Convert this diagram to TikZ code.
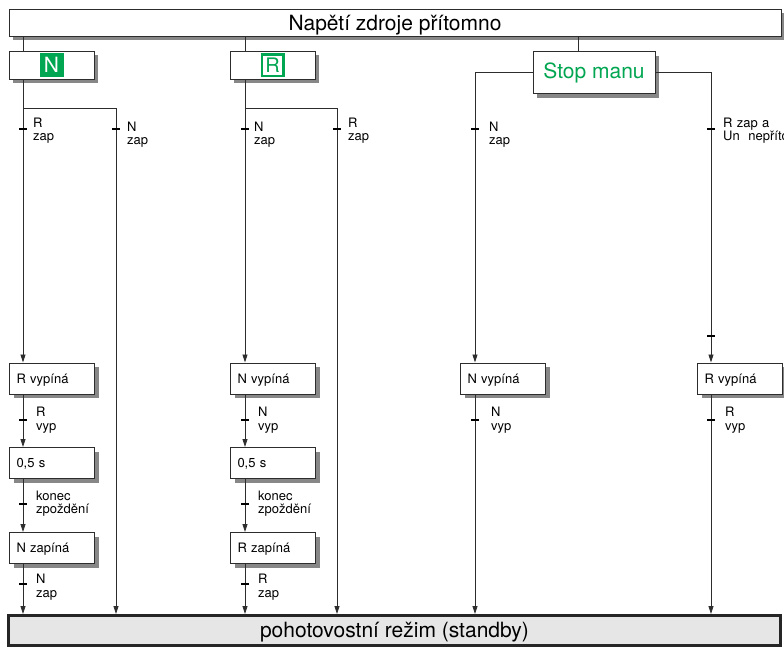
\documentclass[tikz,border=0pt]{standalone}
\usepackage{fontspec}
\setmainfont{TeX Gyre Heros}
\usetikzlibrary{arrows.meta,shadows}
\definecolor{grn}{RGB}{0,166,81}
\definecolor{shd}{RGB}{135,135,135}
\definecolor{lnc}{RGB}{45,45,45}
\definecolor{sbfill}{RGB}{230,230,230}
\begin{document}
\begin{tikzpicture}[x=1pt,y=-1pt,
  ln/.style={draw=lnc, line width=0.8pt},
  arr/.style={ln, -{Triangle[length=8pt,width=5pt]}},
  tickmark/.style={draw=black, line width=2pt},
  frame/.style={draw=lnc, line width=1pt, fill=white, inner sep=0pt,
    general shadow={fill=shd, shadow xshift=4pt, shadow yshift=-4pt}},
  bigtxt/.style={font=\fontsize{21}{25}\selectfont},
  stepbox/.style={frame, anchor=north west, minimum height=31pt, text width=71pt,
    inner xsep=7pt, align=left, text height=9pt, text depth=0pt, font=\fontsize{13}{15}\selectfont},
  lbl/.style={anchor=base west, inner sep=0pt, text width=120pt, align=left,
    font=\fontsize{13}{13.5}\selectfont},
]
\useasboundingbox (0,0) rectangle (784,648);

% column coordinates
\coordinate (c1) at (23,0);
\coordinate (c2) at (116,0);
\coordinate (c3) at (245,0);
\coordinate (c4) at (337,0);
\coordinate (c5) at (475,0);
\coordinate (c6) at (711,0);
\coordinate (cS) at (578,0);
\coordinate (jN) at (23,108);
\coordinate (jR) at (245,108);

% top box
\node[frame, bigtxt, minimum width=772pt, minimum height=27pt, text height=15pt, text depth=0pt]
  (top) at (395,22.5) {Napětí zdroje přítomno};

% mode boxes
\node[frame, minimum width=85pt, minimum height=28pt] (nbox) at (51.5,65)
  {\setlength{\fboxsep}{0pt}\colorbox{grn}{\parbox[c][24pt][c]{24pt}{\centering\color{white}\fontsize{21}{21}\selectfont N}}};
\node[frame, minimum width=85pt, minimum height=28pt] (rbox) at (272.5,65)
  {\setlength{\fboxsep}{0pt}\setlength{\fboxrule}{2.5pt}\fcolorbox{grn}{white}{\parbox[c][19pt][c]{19pt}{\centering\color{grn}\fontsize{20}{20}\selectfont R}}};
\node[frame, bigtxt, text=grn, minimum width=122pt, minimum height=42pt] (stop) at (594,72.5) {Stop manu};

% step boxes
\node[stepbox] (nRv) at (9,362.5) {R vypíná};
\node[stepbox] (n05) at (9,447) {0,5 s};
\node[stepbox] (nNz) at (9,532) {N zapíná};
\node[stepbox] (rNv) at (230,362.5) {N vypíná};
\node[stepbox] (r05) at (230,447) {0,5 s};
\node[stepbox] (rRz) at (230,532) {R zapíná};
\node[stepbox] (sNv) at (460,362.5) {N vypíná};
\node[stepbox] (sRv) at (697,362.5) {R vypíná};

% standby box
\node[draw=black!85, line width=3pt, fill=sbfill, bigtxt, minimum width=772pt, minimum height=30pt,
  inner sep=0pt, text height=14pt, text depth=0pt] (sb) at (394.5,630.5) {pohotovostní režim (standby)};

% connectors from top
\draw[ln] (top.south -| c1) -- (nbox.north -| c1);
\draw[ln] (top.south -| c3) -- (rbox.north -| c3);
\draw[ln] (top.south -| cS) -- (stop.north -| cS);

% N branch
\draw[arr] (nbox.south -| c1) -- (nRv.north -| c1);
\draw[arr] (jN) -- (jN -| c2) -- (sb.north -| c2);
\draw[arr] (nRv.south -| c1) -- (n05.north -| c1);
\draw[arr] (n05.south -| c1) -- (nNz.north -| c1);
\draw[arr] (nNz.south -| c1) -- (sb.north -| c1);

% R branch
\draw[arr] (rbox.south -| c3) -- (rNv.north -| c3);
\draw[arr] (jR) -- (jR -| c4) -- (sb.north -| c4);
\draw[arr] (rNv.south -| c3) -- (r05.north -| c3);
\draw[arr] (r05.south -| c3) -- (rRz.north -| c3);
\draw[arr] (rRz.south -| c3) -- (sb.north -| c3);

% Stop branch
\draw[arr] (stop.west) -- (stop.west -| c5) -- (sNv.north -| c5);
\draw[arr] (stop.east) -- (stop.east -| c6) -- (sRv.north -| c6);
\draw[arr] (sNv.south -| c5) -- (sb.north -| c5);
\draw[arr] (sRv.south -| c6) -- (sb.north -| c6);

% transition ticks
\foreach \tx/\ty in {23/129,116/129,245/129,337/129,475/129,711/129,
                     23/420,245/420,475/420,711/420,
                     23/504,245/504,23/584,245/584,711/336}
  \draw[tickmark] (\tx-4,\ty) -- (\tx+4,\ty);

% labels
\node[lbl] (l1) at (33,127) {R\\zap};
\node[lbl] (l2) at (127,131) {N\\zap};
\node[lbl] (l3) at (254,131) {N\\zap};
\node[lbl] (l4) at (348,127) {R\\zap};
\node[lbl] (l5) at (489,131) {N\\zap};
\node[lbl] (l6) at (723,127) {R zap a\\Un\ \ nepřítomno};
\node[lbl] (l7) at (36,416.7) {R\\vyp};
\node[lbl] (l8) at (258,416.7) {N\\vyp};
\node[lbl] (l9) at (491,416.7) {N\\vyp};
\node[lbl] (l10) at (725,416.7) {R\\vyp};
\node[lbl] (l11) at (36,500) {konec\\zpoždění};
\node[lbl] (l12) at (258,500) {konec\\zpoždění};
\node[lbl] (l13) at (36,583.5) {N\\zap};
\node[lbl] (l14) at (258,583.5) {R\\zap};
\end{tikzpicture}
\end{document}
